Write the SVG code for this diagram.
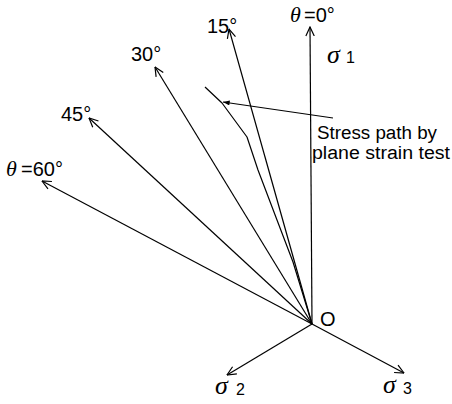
<svg xmlns="http://www.w3.org/2000/svg" width="452" height="404" viewBox="0 0 452 404">
  <defs>
    <marker id="open" viewBox="0 0 10 10" refX="9.5" refY="5" markerWidth="10" markerHeight="10" markerUnits="userSpaceOnUse" orient="auto">
      <path d="M0.5,0.8 L9.5,5 L0.5,9.2" fill="none" stroke="#000" stroke-width="1.2"/>
    </marker>
    <marker id="solid" viewBox="0 0 8 6" refX="8" refY="3" markerWidth="7" markerHeight="5" markerUnits="userSpaceOnUse" orient="auto">
      <path d="M0,0 L8,3 L0,6 z" fill="#000"/>
    </marker>
  </defs>
  <style>
    .ax { fill: none; stroke: #000; stroke-width: 1.2; marker-end: url(#open); }
    .ln { fill: none; stroke: #000; stroke-width: 1.2; stroke-linejoin: round; }
    .t { font-family: "Liberation Sans", Arial, sans-serif; font-size: 20px; fill: #000; }
    .n { font-family: "Liberation Sans", Arial, sans-serif; font-size: 18px; fill: #000; }
    .g { font-family: "Liberation Serif", "Times New Roman", serif; font-style: italic; font-size: 26px; fill: #000; }
    .th { font-family: "Liberation Serif", "Times New Roman", serif; font-style: italic; font-size: 22px; fill: #000; }
    .s { font-family: "Liberation Sans", Arial, sans-serif; font-size: 16px; fill: #000; }
  </style>
  <rect width="452" height="404" fill="#fff"/>

  <g id="connectors">
    <line class="ax" x1="312" y1="324" x2="310" y2="27"/>
    <line class="ax" x1="312" y1="324" x2="229" y2="29"/>
    <line class="ax" x1="312" y1="324" x2="155" y2="67"/>
    <line class="ax" x1="312" y1="324" x2="89" y2="118"/>
    <line class="ax" x1="312" y1="324" x2="42" y2="181"/>
    <line class="ax" x1="312" y1="324" x2="227" y2="375"/>
    <line class="ax" x1="312" y1="324" x2="404" y2="373"/>
    <polyline id="stress-path" class="ln" points="205,87 222,103 247,137 258,170 277,220 293,262 312,324"/>
    <line id="pointer" class="ln" x1="333" y1="118" x2="223" y2="102" marker-end="url(#solid)"/>
  </g>

  <g id="label-theta0">
    <text class="th" x="290" y="22">θ</text>
    <text class="t" x="304" y="22">=0°</text>
  </g>
  <g id="label-15"><text class="t" x="207" y="33">15°</text></g>
  <g id="label-30"><text class="t" x="131" y="61">30°</text></g>
  <g id="label-45"><text class="t" x="61" y="121">45°</text></g>
  <g id="label-theta60">
    <text class="th" x="6" y="176">θ</text>
    <text class="t" x="21" y="176">=60°</text>
  </g>
  <g id="label-sigma1">
    <text class="g" x="327" y="63">σ</text>
    <text class="s" x="346" y="63">1</text>
  </g>
  <g id="label-O"><text class="t" x="320" y="326">O</text></g>
  <g id="label-sigma2">
    <text class="g" x="215" y="394">σ</text>
    <text class="s" x="236" y="395">2</text>
  </g>
  <g id="label-sigma3">
    <text class="g" x="383" y="393">σ</text>
    <text class="s" x="403" y="394">3</text>
  </g>
  <g id="label-stress-path">
    <text class="n" x="317" y="139" textLength="120" lengthAdjust="spacingAndGlyphs">Stress path by</text>
    <text class="n" x="312" y="159" textLength="138" lengthAdjust="spacingAndGlyphs">plane strain test</text>
  </g>
</svg>
